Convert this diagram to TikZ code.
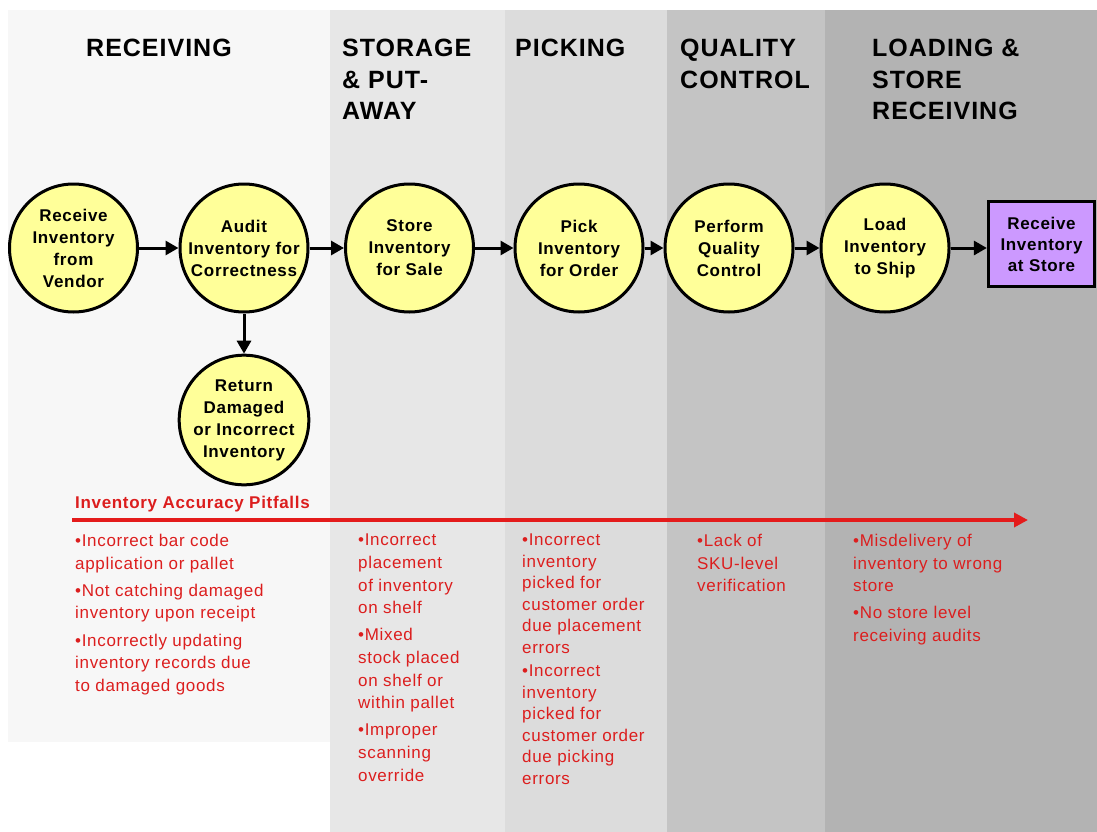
\documentclass[tikz,border=0pt]{standalone}
\usepackage{fontspec}
\setmainfont{Liberation Sans}[LetterSpace=4]
\usetikzlibrary{arrows.meta}
\definecolor{bandrec}{HTML}{F7F7F7}
\definecolor{bandsto}{HTML}{E7E7E7}
\definecolor{bandpic}{HTML}{DCDCDC}
\definecolor{bandqc}{HTML}{C4C4C4}
\definecolor{bandload}{HTML}{B3B3B3}
\definecolor{procfill}{HTML}{FFFF99}
\definecolor{storefill}{HTML}{CC99FF}
\definecolor{pitred}{HTML}{DC1E1E}
\definecolor{arrowred}{HTML}{E41B1B}
\begin{document}
\begin{tikzpicture}[x=1pt,y=-1pt,
  proc/.style={circle, draw=black, line width=3pt, fill=procfill, minimum size=128pt, inner sep=0pt, align=center, font=\fontsize{17}{22}\selectfont\bfseries},
  endbox/.style={rectangle, draw=black, line width=3.3pt, fill=storefill, minimum width=106pt, minimum height=85pt, inner sep=0pt, align=center, font=\fontsize{17}{21}\selectfont\bfseries},
  flow/.style={-{Triangle[length=13pt,width=14pt]}, line width=3pt, draw=black},
  head/.style={anchor=north west, inner sep=0pt, align=left, font=\fontsize{25}{31.5}\selectfont\bfseries},
  pit/.style={anchor=north west, inner sep=0pt, align=left, text=pitred, font=\fontsize{17}{22.6}\selectfont},
  pittitle/.style={anchor=north west, inner sep=0pt, text=pitred, font=\fontsize{17}{20}\selectfont\bfseries},
  pitarrow/.style={-{Triangle[length=14pt,width=14pt]}, line width=3.5pt, draw=arrowred}
]
\useasboundingbox (0,0) rectangle (1097,832);
\fill[white] (0,0) rectangle (1097,832);
% bands
\fill[bandrec] (8,10) rectangle (330,742);
\fill[bandsto] (330,10) rectangle (505,832);
\fill[bandpic] (505,10) rectangle (667,832);
\fill[bandqc] (667,10) rectangle (825,832);
\fill[bandload] (825,10) rectangle (1097,832);
% headers
\node[head] (hrec) at (86,39) {RECEIVING};
\node[head] (hsto) at (342,39) {STORAGE\\\& PUT-\\AWAY};
\node[head] (hpic) at (515,39) {PICKING};
\node[head] (hqc) at (680,39) {QUALITY\\CONTROL};
\node[head] (hload) at (872,39) {LOADING \&\\STORE\\RECEIVING};
% process nodes
\node[proc] (recv) at (73.5,248) {Receive\\Inventory\\from\\Vendor};
\node[proc] (audit) at (244,248) {Audit\\Inventory for\\Correctness};
\node[proc] (store) at (409.5,248) {Store\\Inventory\\for Sale};
\node[proc] (ret) at (244,420) {Return\\Damaged\\or Incorrect\\Inventory};
\node[proc] (pick) at (579,248) {Pick\\Inventory\\for Order};
\node[proc] (qc) at (729,248) {Perform\\Quality\\Control};
\node[proc] (load) at (885,248) {Load\\Inventory\\to Ship};
\node[endbox] (atstore) at (1041.5,244) {Receive\\Inventory\\at Store};
% connectors
\draw[flow] (recv) -- (audit);
\draw[flow] (audit) -- (store);
\draw[flow] (store) -- (pick);
\draw[flow] (pick) -- (qc);
\draw[flow] (qc) -- (load);
\draw[flow] (load.east) -- (load.east -| atstore.west);
\draw[flow] (audit) -- (ret);
% pitfalls
\node[pittitle] (ptitle) at (75,495.8) {Inventory Accuracy Pitfalls};
\coordinate (pa) at (72,520);
\coordinate (pb) at (1028,520);
\draw[pitarrow] (pa) -- (pb);
\node[pit] (prec) at (75,534) {•Incorrect bar code\\application or pallet\\[4.6pt]•Not catching damaged\\inventory upon receipt\\[4.6pt]•Incorrectly updating\\inventory records due\\to damaged goods};
\node[pit] (psto) at (358,534) {•Incorrect\\placement\\of inventory\\on shelf\\[4.6pt]•Mixed\\stock placed\\on shelf or\\within pallet\\[4.6pt]•Improper\\scanning\\override};
\node[pit, font=\fontsize{17}{21.5}\selectfont] (ppic) at (522,534) {•Incorrect\\inventory\\picked for\\customer order\\due placement\\errors\\[2pt]•Incorrect\\inventory\\picked for\\customer order\\due picking\\errors};
\node[pit] (pqc) at (697,534) {•Lack of\\SKU-level\\verification};
\node[pit] (pload) at (853,534) {•Misdelivery of\\inventory to wrong\\store\\[4.6pt]•No store level\\receiving audits};
\end{tikzpicture}
\end{document}
